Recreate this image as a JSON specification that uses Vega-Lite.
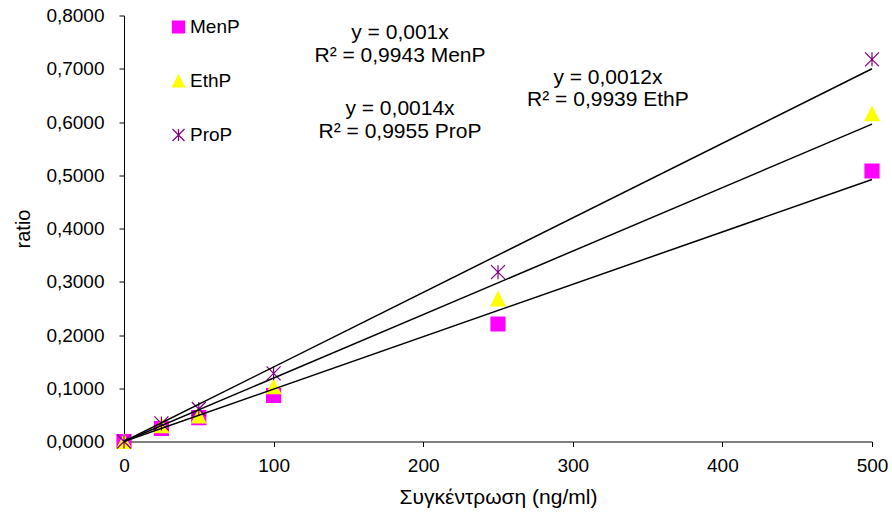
{
  "$schema": "https://vega.github.io/schema/vega-lite/v6.json",
  "width": 748,
  "height": 426,
  "autosize": {"type": "none"},
  "padding": {"left": 124, "top": 15.5, "right": 20, "bottom": 75.5},
  "background": "white",
  "config": {
    "font": "Liberation Sans",
    "view": {"stroke": null},
    "axis": {
      "grid": false,
      "domainColor": "black",
      "domainWidth": 1,
      "tickColor": "black",
      "tickSize": 5,
      "labelColor": "black",
      "labelFontSize": 19,
      "labelFlush": false,
      "titleColor": "black",
      "titleFontSize": 20,
      "titleFontWeight": "normal"
    },
    "legend": {
      "orient": "none",
      "legendX": 45,
      "legendY": 2,
      "padding": 0,
      "labelFontSize": 19,
      "labelColor": "black",
      "labelOffset": 2,
      "symbolSize": 144,
      "symbolStrokeWidth": 1.2,
      "rowPadding": 34
    }
  },
  "datasets": {
    "measured": [
      {"series": "MenP", "conc": 0, "ratio": 0.0},
      {"series": "MenP", "conc": 25, "ratio": 0.0244},
      {"series": "MenP", "conc": 50, "ratio": 0.045},
      {"series": "MenP", "conc": 100, "ratio": 0.0864},
      {"series": "MenP", "conc": 250, "ratio": 0.2207},
      {"series": "MenP", "conc": 500, "ratio": 0.508},
      {"series": "EthP", "conc": 0, "ratio": 0.0},
      {"series": "EthP", "conc": 25, "ratio": 0.030},
      {"series": "EthP", "conc": 50, "ratio": 0.048},
      {"series": "EthP", "conc": 100, "ratio": 0.103},
      {"series": "EthP", "conc": 250, "ratio": 0.268},
      {"series": "EthP", "conc": 500, "ratio": 0.6156},
      {"series": "ProP", "conc": 0, "ratio": 0.0},
      {"series": "ProP", "conc": 25, "ratio": 0.034},
      {"series": "ProP", "conc": 50, "ratio": 0.061},
      {"series": "ProP", "conc": 100, "ratio": 0.128},
      {"series": "ProP", "conc": 250, "ratio": 0.318},
      {"series": "ProP", "conc": 500, "ratio": 0.7177}
    ],
    "trend": [
      {"series": "MenP", "conc": 0, "fit": 0},
      {"series": "MenP", "conc": 500, "fit": 0.492},
      {"series": "EthP", "conc": 0, "fit": 0},
      {"series": "EthP", "conc": 500, "fit": 0.596},
      {"series": "ProP", "conc": 0, "fit": 0},
      {"series": "ProP", "conc": 500, "fit": 0.700}
    ],
    "notes": [
      {"note": "y = 0,001x", "at": 184.5, "level": 0.767},
      {"note": "R² = 0,9943 MenP", "at": 184.5, "level": 0.724},
      {"note": "y = 0,0012x", "at": 323.5, "level": 0.683},
      {"note": "R² = 0,9939 EthP", "at": 323.5, "level": 0.641},
      {"note": "y = 0,0014x", "at": 184.5, "level": 0.624},
      {"note": "R² = 0,9955 ProP", "at": 184.5, "level": 0.581}
    ]
  },
  "layer": [
    {
      "data": {"name": "measured"},
      "mark": {"type": "point", "filled": true, "size": 196, "strokeWidth": 1.2, "opacity": 1},
      "encoding": {
        "x": {
          "field": "conc",
          "type": "quantitative",
          "scale": {"domain": [0, 500], "nice": false},
          "axis": {
            "values": [0, 100, 200, 300, 400, 500],
            "title": "Συγκέντρωση (ng/ml)",
            "titleFontSize": 21,
            "labelPadding": 10,
            "titlePadding": 11
          }
        },
        "y": {
          "field": "ratio",
          "type": "quantitative",
          "scale": {"domain": [0, 0.8], "nice": false},
          "axis": {
            "values": [0, 0.1, 0.2, 0.3, 0.4, 0.5, 0.6, 0.7, 0.8],
            "labelExpr": "replace(format(datum.value, '.4f'), '.', ',')",
            "title": "ratio",
            "labelPadding": 15,
            "titlePadding": 12
          }
        },
        "fill": {
          "field": "series",
          "type": "nominal",
          "title": null,
          "scale": {"domain": ["MenP", "EthP", "ProP"], "range": ["#ff00ff", "#ffff00", "#800080"]}
        },
        "stroke": {
          "field": "series",
          "type": "nominal",
          "title": null,
          "scale": {"domain": ["MenP", "EthP", "ProP"], "range": ["#ff00ff", "#ffff00", "#800080"]}
        },
        "shape": {
          "field": "series",
          "type": "nominal",
          "title": null,
          "scale": {
            "domain": ["MenP", "EthP", "ProP"],
            "range": [
              "M-1,-1H1V1H-1Z",
              "M0,-1L1,1L-1,1Z",
              "M-1,-1L1,1M-1,1L1,-1M0,-1L0,1"
            ]
          }
        }
      }
    },
    {
      "data": {"name": "trend"},
      "mark": {"type": "line", "color": "black", "strokeWidth": 1.5},
      "encoding": {
        "x": {"field": "conc", "type": "quantitative"},
        "y": {"field": "fit", "type": "quantitative"},
        "detail": {"field": "series", "type": "nominal"}
      }
    },
    {
      "data": {"name": "notes"},
      "mark": {"type": "text", "fontSize": 21, "align": "center", "baseline": "middle", "color": "black"},
      "encoding": {
        "x": {"field": "at", "type": "quantitative"},
        "y": {"field": "level", "type": "quantitative"},
        "text": {"field": "note", "type": "nominal"}
      }
    }
  ]
}
